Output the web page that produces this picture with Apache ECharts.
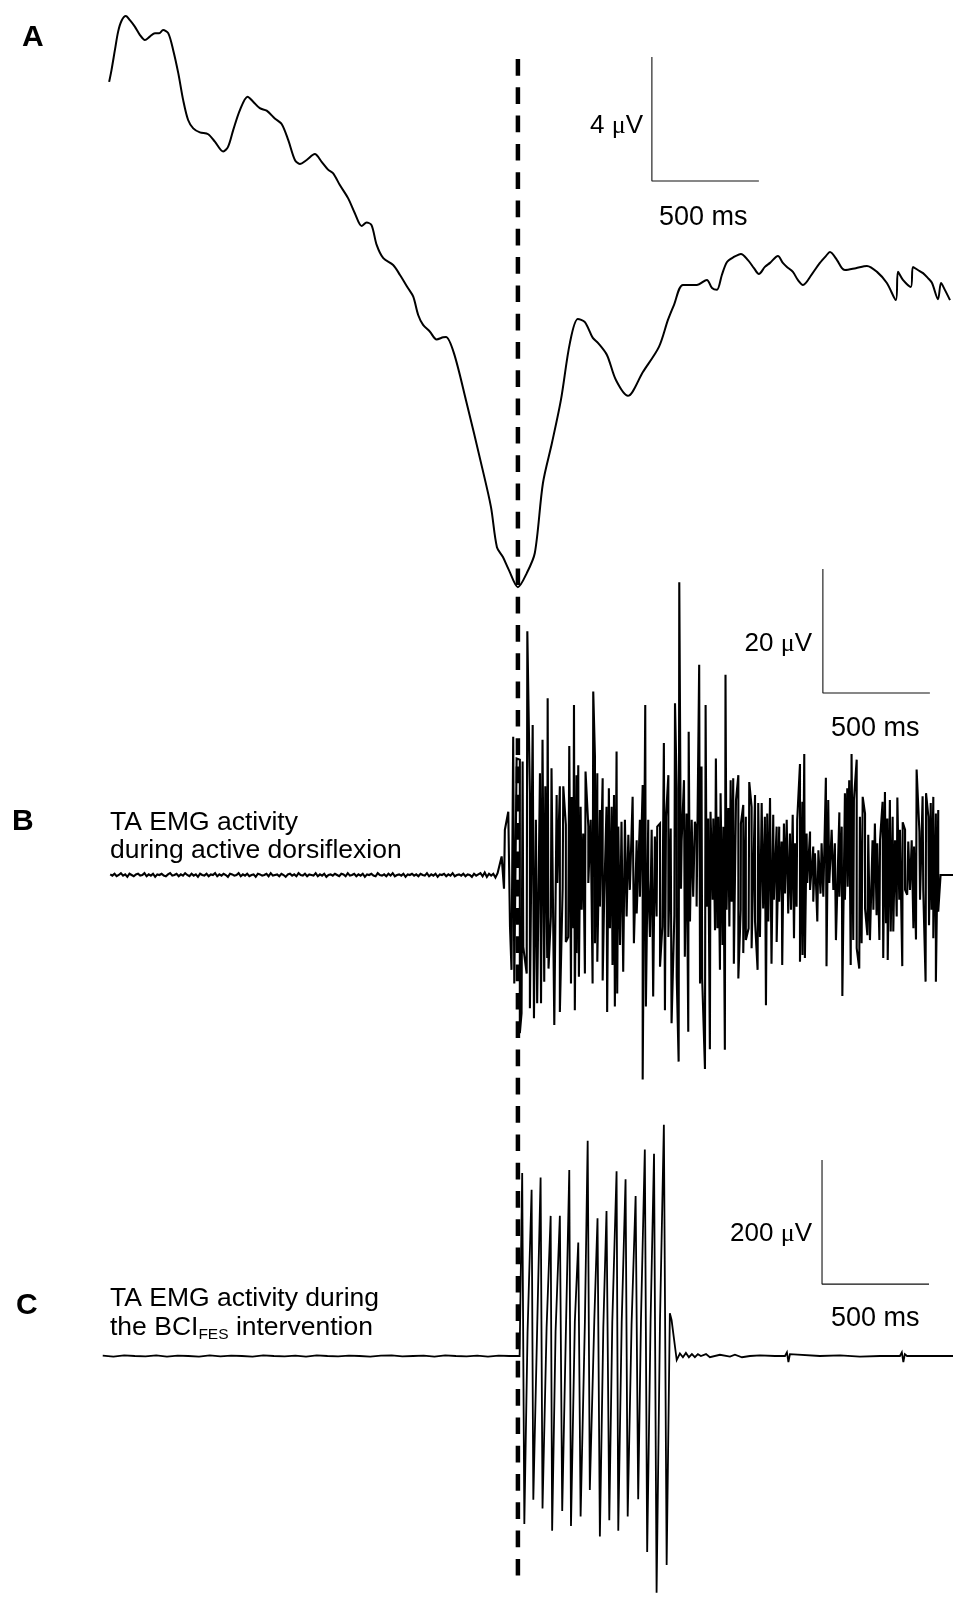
<!DOCTYPE html>
<html>
<head>
<meta charset="utf-8">
<title>MRCP and TA EMG</title>
<script src="https://cdn.jsdelivr.net/npm/echarts@6.0.0/dist/echarts.min.js"></script>
<style>
  html, body { margin: 0; padding: 0; background: #fff; }
  #main { width: 953px; height: 1597px; }
</style>
</head>
<body>
<div id="main"></div>
<script>
// time in ms, 0 = movement onset (the dashed line)
const tMin = -2420, tMax = 2033;

// A: averaged MRCP, µV
const mrcpTime = [-1910,-1899,-1883,-1868,-1852,-1832,-1813,-1790,-1766,-1743,
  -1720,-1696,-1676,-1658,-1634,-1611,-1587,-1564,-1541,-1517,
  -1486,-1447,-1416,-1377,-1354,-1330,-1299,-1263,-1237,-1206,
  -1174,-1136,-1104,-1073,-1042,-1019,-987,-949,-917,-886,
  -863,-832,-793,-762,-730,-707,-684,-660,-629,-583,
  -551,-513,-489,-466,-443,-411,-380,-349,-336,-299,
  -243,-168,-126,-98,-70,-42,0,42,79,117,
  159,201,243,280,313,350,374,416,458,514,
  584,659,701,729,771,836,883,907,930,953,
  977,1009,1042,1075,1103,1126,1154,1178,1215,1238,
  1257,1285,1308,1332,1374,1411,1439,1458,1491,1514,
  1528,1579,1631,1678,1724,1766,1776,1799,1836,1846,
  1869,1893,1916,1935,1963,1977,1995,2019];
const mrcpValue = [7.36,7.74,8.39,8.98,9.33,9.48,9.35,9.14,8.87,8.71,
  8.82,8.93,8.93,9.03,8.93,8.39,7.64,6.77,6.13,5.86,
  5.73,5.67,5.43,5.11,5.27,5.81,6.45,6.88,6.72,6.51,
  6.43,6.18,6.00,5.48,4.84,4.71,4.84,5.03,4.78,4.52,
  4.41,4.03,3.60,3.12,2.71,2.82,2.74,2.10,1.67,1.45,
  1.13,0.70,0.43,-0.16,-0.48,-0.70,-0.95,-0.88,-0.87,-1.39,
  -2.90,-5.06,-6.35,-7.65,-7.97,-8.39,-8.94,-8.48,-7.84,-5.58,
  -4.29,-2.90,-1.06,-0.29,-0.39,-0.90,-1.06,-1.45,-2.26,-2.77,
  -2.00,-1.19,-0.32,0.16,0.81,0.81,0.97,0.71,0.65,1.13,
  1.55,1.71,1.81,1.61,1.35,1.16,1.39,1.52,1.74,1.52,
  1.39,1.23,0.97,0.81,1.16,1.52,1.74,1.87,1.61,1.35,
  1.29,1.35,1.42,1.23,0.87,0.32,1.23,0.97,0.74,1.39,
  1.29,1.19,1.03,0.87,0.35,0.87,0.65,0.32];

// B: TA EMG during active dorsiflexion, µV
// resting part, one sample every 10 ms
const restStart = -1905, restStep = 10;
const restNoise = [0.1,-0.1,0.2,-0.2,0,0.3,-0.1,0.1,-0.3,0.2,
  0,-0.2,0.1,0.2,-0.1,0,0.3,-0.2,0.1,-0.1,
  0.2,-0.3,0.1,0,0.2,-0.1,-0.2,0.1,0.3,-0.1,
  0,0.2,-0.2,0.1,-0.1,0.3,0,-0.2,0.2,-0.1,
  0.1,-0.3,0.2,0,-0.1,0.2,-0.2,0.1,0,0.3,
  -0.2,0.1,-0.1,0.2,0,-0.3,0.2,0.1,-0.1,0,
  0.3,-0.2,0.1,-0.1,0.2,-0.2,0,0.1,-0.3,0.2,
  0.1,-0.1,0,0.2,-0.2,0.3,-0.1,0,0.1,-0.2,
  0.2,0,-0.3,0.1,0.2,-0.1,0.1,-0.2,0.3,0,
  -0.1,0.2,-0.2,0.1,0,-0.1,0.3,-0.2,0.1,-0.1,
  0.2,-0.3,0,0.1,-0.1,0.2,0,-0.2,0.2,0.1,
  -0.2,0.3,-0.1,0,0.2,-0.2,0.1,-0.1,0.2,-0.3,
  0.1,0,0.2,-0.1,-0.2,0.3,0,-0.1,0.1,-0.2,
  0.2,-0.1,0.3,-0.2,0,0.1,-0.1,0.2,-0.3,0.1,
  0,0.2,-0.1,0.1,-0.2,0.2,0,-0.1,0.3,-0.2,
  0.1,-0.1,0.2,-0.3,0.1,0,0.2,-0.2,0.1,-0.1,
  0.3,-0.2,0,0.1,-0.1,0.2,-0.2,0.1,0,-0.3,
  0.2,-0.1,0.1,0.3,-0.2,0.4,-0.3,0.2,-0.1,0.2,
  -0.4,0.3];
// positive peaks of the burst
const emgUpTime = [-76,-61,-45,-22,-6,9,22,44,56,69,
  84,103,115,128,139,157,181,196,212,224,
  240,251,262,274,282,293,305,316,329,340,
  352,360,371,383,396,414,425,438,449,461,
  469,484,500,516,536,555,570,583,595,609,
  625,640,651,664,682,692,703,714,734,742,
  754,765,776,788,798,812,827,835,847,858,
  877,889,900,913,925,936,947,960,970,983,
  994,1006,1019,1030,1042,1053,1065,1081,1092,1108,
  1123,1139,1154,1165,1178,1193,1209,1221,1232,1243,
  1256,1271,1284,1295,1305,1318,1329,1338,1349,1365,
  1380,1388,1404,1419,1439,1450,1466,1481,1502,1513,
  1528,1539,1548,1559,1570,1583,1598,1611,1622,1637,
  1657,1668,1679,1692,1704,1715,1726,1738,1751,1762,
  1773,1785,1798,1809,1824,1840,1851,1863,1876,1891,
  1907,1918,1929,1941,1953,1964];
const emgUpValue = [3.0,7.3,10.2,22.3,18.8,18.6,18.3,39.3,13.2,24.2,
  8.9,16.4,21.8,14.3,28.5,17.2,12.9,14.3,14.3,8.1,
  20.8,12.6,27.4,16.1,17.7,11.0,6.7,16.7,7.8,8.9,
  29.6,19.1,16.4,10.5,15.6,11.0,14.0,11.0,12.9,19.9,
  7.8,8.6,8.9,6.5,12.6,5.6,8.9,14.5,27.4,8.9,
  7.3,6.2,7.8,8.3,21.3,9.4,16.1,7.5,27.7,14.0,
  47.2,5.4,15.3,9.9,23.1,8.9,8.6,7.0,33.9,17.5,
  27.4,9.1,10.2,9.1,18.8,9.4,13.2,7.8,32.3,10.8,
  15.3,15.6,12.1,16.1,8.3,11.3,9.4,15.0,11.0,12.9,
  11.6,11.6,9.4,9.9,12.4,9.7,7.8,7.8,5.4,8.3,
  8.9,6.7,9.7,5.1,8.9,17.9,11.8,19.5,6.7,7.0,
  4.6,3.5,4.0,5.1,15.7,12.1,7.3,5.1,10.1,7.8,
  13.2,14.0,15.3,19.5,12.1,18.6,9.4,12.6,9.9,6.5,
  5.6,8.3,5.1,5.6,11.8,13.4,9.1,12.1,9.4,5.6,
  12.5,7.3,8.5,7.3,5.4,5.6,4.6,17.0,7.0,12.7,
  13.2,9.4,11.6,12.6,9.9,10.5];
// negative peaks of the burst
const emgDownTime = [-65,-37,-30,-17,-9,9,17,25,41,56,
  75,90,108,123,137,143,154,170,184,196,
  209,224,235,248,259,266,274,285,298,313,
  329,349,360,371,383,396,403,417,430,442,
  453,464,477,492,508,523,542,555,570,583,
  598,609,617,632,648,664,675,687,703,718,
  731,742,751,762,780,796,804,819,835,851,
  861,874,882,897,910,921,932,944,956,967,
  975,988,999,1009,1030,1041,1053,1065,1078,1092,
  1108,1120,1131,1146,1159,1170,1185,1196,1209,1221,
  1235,1248,1263,1276,1290,1302,1318,1330,1341,1352,
  1365,1380,1399,1414,1427,1442,1455,1474,1486,1502,
  1516,1528,1541,1555,1567,1583,1595,1606,1622,1633,
  1645,1661,1676,1689,1707,1720,1728,1742,1754,1770,
  1782,1796,1809,1819,1832,1848,1860,1879,1894,1905,
  1921,1933,1941,1953,1964];
const emgDownValue = [-2.2,-8.3,-15.3,-17.5,-17.5,-25.5,-22.3,-11.6,-15.9,-21.5,
  -23.1,-20.7,-20.7,-17.2,-13.4,-15.1,-6.7,-24.2,-1.3,-22.1,
  -2.2,-10.8,-10.0,-17.5,-8.6,-21.8,-12.6,-16.4,-5.6,-15.9,
  -1.3,-17.5,-11.0,-14.0,-5.1,-17.0,-4.0,-22.1,-8.6,-14.5,
  -21.2,-19.1,-11.3,-15.6,-6.7,-2.4,-11.0,-6.2,-3.5,-33.0,
  -21.2,-0.8,-10.0,-19.6,-6.7,-14.8,-8.3,-21.8,-10.0,-23.9,
  -6.5,-16.4,-30.1,-2.2,-13.2,-25.3,-7.5,-3.5,-5.1,-17.5,
  -16.7,-31.3,-5.1,-28.1,-4.0,-8.9,-8.6,-15.3,-11.3,-28.2,
  -5.6,-8.3,-4.3,-14.3,-16.7,-5.6,-12.6,-10.5,-8.6,-11.8,
  -7.5,-15.3,-10.0,-5.4,-21.0,-7.5,-14.3,-4.0,-10.8,-4.3,
  -14.5,-3.0,-6.2,-5.6,-10.2,-5.1,-14.0,-12.9,-13.4,-1.3,
  -2.4,-4.3,-7.5,-3.0,-3.5,-14.7,-1.3,-2.4,-10.5,-3.5,
  -19.5,-4.0,-1.9,-14.5,-10.5,-11.8,-15.1,-11.0,-5.4,-9.7,
  -10.5,-5.6,-6.5,-10.5,-13.4,-7.8,-13.7,-9.1,-9.1,-6.7,
  -4.0,-14.7,-2.4,-3.2,-2.4,-8.6,-10.4,-4.0,-2.4,-17.2,
  -8.1,-5.6,-10.2,-17.2,-5.9];
const emgEndTime = [1975, 2033];

// C: TA EMG during the BCI-FES intervention, µV
const fesRestStart = -1940, fesRestStep = 50;
const fesRestNoise = [0.5,-1,1,0,-0.5,1,-1,0.5,0,-1,
  1,-0.5,0.5,0,-1,1,0,-0.5,0.5,-1,
  1,0,-0.5,0.5,0,-1,0.5,1,-0.5,0,
  0.5,-1,1,0,-0.5,0.5,-1,0.5,0];
const fesOnset = 8;
const fesPeakTime = [20,64,106,153,196,240,282,326,372,414,461,503,550,593,636,682];
const fesPeakValue = [295,268,288,226,226,300,183,347,222,234,298,285,258,333,326,373];
const fesTroughTime = [30,72,115,160,207,248,293,336,383,427,469,513,562,604,648,695];
const fesTroughValue = [-271,-232,-246,-282,-250,-274,-259,-216,-291,-265,-282,-259,-231,-316,-382,-337];
const fesKinkTime = [45,90,134,176,224,266,313,357,399,441,485,531,575,620,664];
const fesKinkValue = [37,45,45,40,37,55,55,58,45,55,55,50,58,58,58];
const fesTailTime = [710,718,742,757,771,785,799,813,827,841,
  855,879,897,944,991,1014,1047,1084,1131,1201,
  1248,1257,1264,1271,1280,1411,1505,1598,1692,1785,
  1794,1801,1808,1818,1925,2033];
const fesTailValue = [69,58,-6.5,4,-2,5,-2,3,-2,3,
  0,3,-2,2,-1,2,-2,0,1,0,
  0,6,-10,3,0,0,1,-1,0,0,
  6,-10,3,0,0,0];

// scale bars: corner [ms, µV], 500 ms across, height per panel
const barCorner = [[626, 4.16], [1425, 29.35], [1421, 116]];
const barMs = 500;
const barHeight = [4, 20, 200];

function zip(t, v) { return t.map((x, i) => [x, v[i]]); }
function sorted(list) { return list.sort((a, b) => a[0] - b[0]); }

const restData = restNoise.map((v, i) => [restStart + i * restStep, v]);
const emgData = restData
  .concat(sorted(zip(emgUpTime, emgUpValue).concat(zip(emgDownTime, emgDownValue))))
  .concat(emgEndTime.map(t => [t, 0]));

const fesData = fesRestNoise.map((v, i) => [fesRestStart + i * fesRestStep, v])
  .concat([[fesOnset, 0]])
  .concat(sorted(zip(fesPeakTime, fesPeakValue)
    .concat(zip(fesTroughTime, fesTroughValue))
    .concat(zip(fesKinkTime, fesKinkValue))))
  .concat(zip(fesTailTime, fesTailValue));

const sans = '"Liberation Sans", Arial, Helvetica, sans-serif';
const serif = '"Liberation Serif", "Times New Roman", serif';

function trace(idx, data, width, smooth) {
  return {
    type: 'line', xAxisIndex: idx, yAxisIndex: idx, data: data,
    showSymbol: false, symbol: 'none', smooth: smooth || false,
    silent: true, animation: false,
    lineStyle: { color: '#000', width: width, join: 'miter', miterLimit: 4 }
  };
}

function scaleBar(idx) {
  const c = barCorner[idx];
  return {
    type: 'line', xAxisIndex: idx, yAxisIndex: idx,
    data: [[c[0], c[1] + barHeight[idx]], [c[0], c[1]], [c[0] + barMs, c[1]]],
    showSymbol: false, symbol: 'none', silent: true, animation: false,
    lineStyle: { color: '#111', width: 1.1 }
  };
}

function label(text, x, y, opts) {
  opts = opts || {};
  return {
    type: 'text', x: x, y: y, silent: true,
    style: {
      text: text, fill: '#000',
      fontSize: opts.size || 26.5, fontWeight: opts.bold ? 'bold' : 'normal',
      fontFamily: sans, align: opts.align || 'left', verticalAlign: 'middle'
    }
  };
}

function uvLabel(num, x, y) {
  return {
    type: 'text', x: x, y: y, silent: true,
    style: {
      text: '{n|' + num + ' }{m|\u03bc}{n|V}',
      align: 'right', verticalAlign: 'middle',
      rich: {
        n: { fontSize: 26, fontFamily: sans, fill: '#000' },
        m: { fontSize: 26, fontFamily: serif, fill: '#000' }
      }
    }
  };
}

const chart = echarts.init(document.getElementById('main'), null, { renderer: 'canvas' });

const grids = [
  { left: 0, right: 0, top: 0, height: 620 },
  { left: 0, right: 0, top: 565, height: 620 },
  { left: 0, right: 0, top: 1108, height: 496 },
  { left: 0, right: 0, top: 59, height: 1524 }
].map(g => Object.assign(g, { containLabel: false, outerBoundsMode: 'none' }));

const yRanges = [[-10, 10], [-50, 50], [-400, 400], [0, 1]];

const option = {
  backgroundColor: '#fff',
  animation: false,
  grid: grids,
  xAxis: grids.map((g, i) => ({ type: 'value', gridIndex: i, min: tMin, max: tMax, show: false })),
  yAxis: yRanges.map((r, i) => ({ type: 'value', gridIndex: i, min: r[0], max: r[1], show: false })),
  series: [
    trace(0, zip(mrcpTime, mrcpValue), 2, 0.3),
    trace(1, emgData, 2.1),
    trace(2, fesData, 1.8),
    scaleBar(0), scaleBar(1), scaleBar(2),
    {
      // movement onset
      type: 'line', xAxisIndex: 3, yAxisIndex: 3,
      data: [[0, 1], [0, 0]],
      showSymbol: false, symbol: 'none', silent: true, animation: false,
      lineStyle: { color: '#000', width: 4.5, type: [16.7, 11.6], cap: 'butt' },
      z: 5
    }
  ],
  graphic: [
    label('A', 22, 38, { bold: true, size: 30 }),
    label('B', 12, 822, { bold: true, size: 30 }),
    label('C', 16, 1306, { bold: true, size: 30 }),
    label('TA EMG activity', 110, 823),
    label('during active dorsiflexion', 110, 851),
    label('TA EMG activity during', 110, 1299),
    {
      type: 'text', x: 110, y: 1328, silent: true,
      style: {
        text: '{t|the BCI}{s|FES}{t| intervention}',
        align: 'left', verticalAlign: 'middle',
        rich: {
          t: { fontSize: 26.5, fontFamily: sans, fill: '#000', lineHeight: 30, verticalAlign: 'middle' },
          s: { fontSize: 15.5, fontFamily: sans, fill: '#000', lineHeight: 14, verticalAlign: 'bottom' }
        }
      }
    },
    uvLabel('4', 643, 126),
    label('500 ms', 659, 218, { size: 27 }),
    uvLabel('20', 812, 644),
    label('500 ms', 831, 729, { size: 27 }),
    uvLabel('200', 812, 1234),
    label('500 ms', 831, 1319, { size: 27 })
  ]
};

chart.setOption(option);
</script>
</body>
</html>
